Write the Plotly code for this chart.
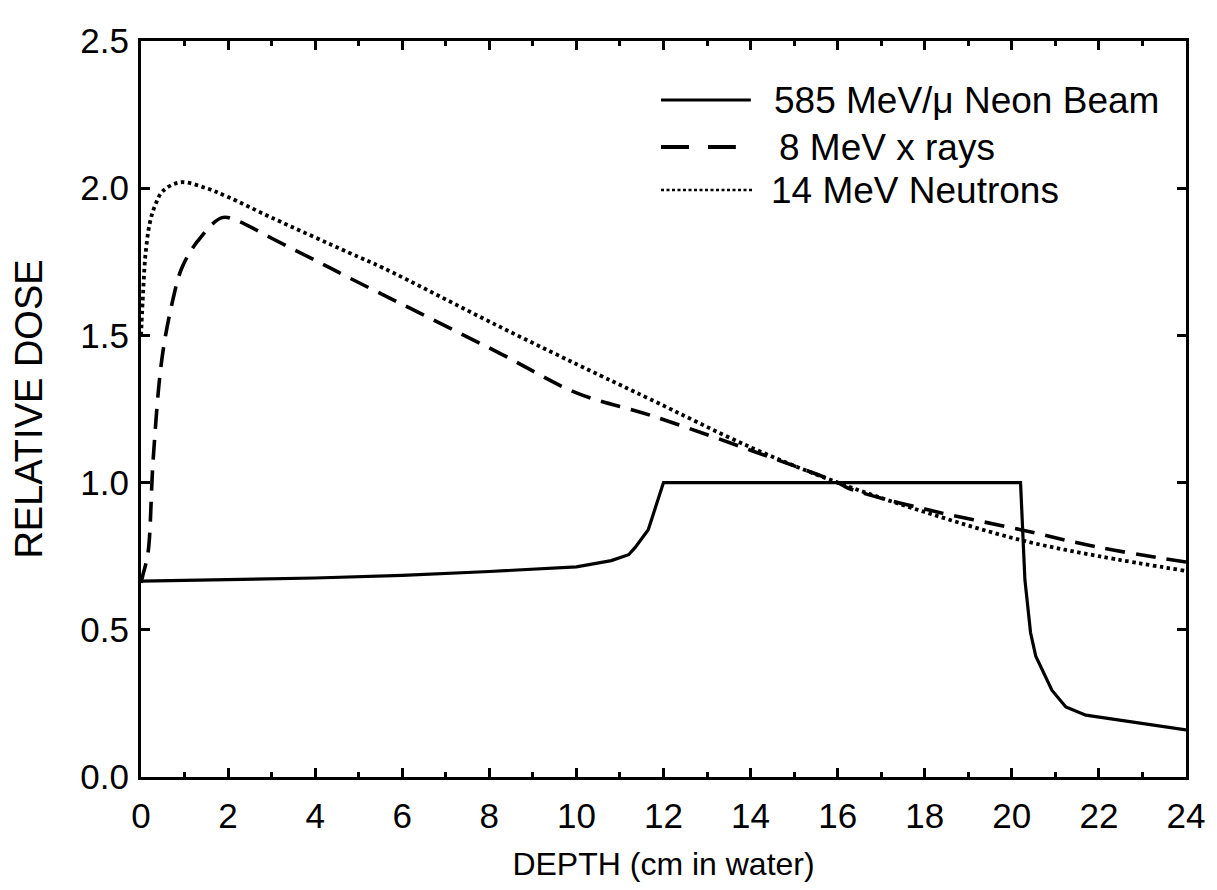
import plotly.graph_objects as go

# Depth-dose curves (depth in cm of water, dose relative to the neon plateau)
neon_depth = [0, 2, 4, 6, 8, 10, 10.8, 11.2, 11.35, 11.65, 12.0, 20.2, 20.3,
              20.43, 20.55, 20.92, 21.24, 21.7, 24]
neon_dose = [0.665, 0.67, 0.676, 0.685, 0.698, 0.714, 0.735, 0.755, 0.78, 0.84,
             1.0, 1.0, 0.67, 0.49, 0.41, 0.295, 0.238, 0.21, 0.16]

xray_depth = [0, 0.05, 0.16, 0.28, 0.48, 0.73, 0.94, 1.3, 1.86, 2.2, 3, 4.33,
              4.79, 8.23, 10, 11.67, 14, 16, 16.26, 18, 20.2, 22, 24]
xray_dose = [0.66, 0.69, 0.76, 1.08, 1.42, 1.62, 1.73, 1.82, 1.90, 1.89, 1.83,
             1.73, 1.695, 1.44, 1.305, 1.23, 1.11, 1.0, 0.98, 0.91, 0.84,
             0.78, 0.73]

neutron_depth = [0, 0.05, 0.1, 0.2, 0.32, 0.5, 0.9, 1.5, 2, 3, 4.79, 5.55,
                 8.23, 10.53, 11.67, 14, 16, 18, 20.2, 22, 24]
neutron_dose = [1.5, 1.65, 1.77, 1.88, 1.94, 1.99, 2.02, 2.0, 1.97, 1.90, 1.78,
                1.73, 1.53, 1.365, 1.285, 1.12, 1.0, 0.9, 0.805, 0.75, 0.70]

legend_labels = ["585 MeV/\u03bc Neon Beam", "8 MeV x rays", "14 MeV Neutrons"]
x_ticks = list(range(0, 25, 2))
y_ticks = [0.0, 0.5, 1.0, 1.5, 2.0, 2.5]

FONT = "Liberation Sans, Arial, Helvetica, sans-serif"
X0, X1, Y0, Y1 = 141, 1188, 41, 777  # plot-area pixel bounds


def px_x(p):
    return (p - X0) / (X1 - X0)


def px_y(p):
    return 1 - (p - Y0) / (Y1 - Y0)


fig = go.Figure()
fig.add_trace(go.Scatter(x=neon_depth, y=neon_dose, mode="lines",
                         line=dict(color="black", width=3.2),
                         name=legend_labels[0], showlegend=False))
fig.add_trace(go.Scatter(x=xray_depth, y=xray_dose, mode="lines",
                         line=dict(color="black", width=3.6, dash="20px,11px"),
                         line_shape="spline",
                         name=legend_labels[1], showlegend=False))
fig.add_trace(go.Scatter(x=neutron_depth, y=neutron_dose, mode="lines",
                         line=dict(color="black", width=3.8, dash="3.5px,3.5px"),
                         line_shape="spline",
                         name=legend_labels[2], showlegend=False))

# Hand-drawn legend inside the plot area
legend_rows = [
    (100, 662, 752, "solid", 3.2, 773),
    (147, 662, 737, "28px,19px", 3.8, 778),
    (190, 662, 755, "3px,2.5px", 2.6, 770),
]
for (ypix, lx0, lx1, dash, w, tx), label in zip(legend_rows, legend_labels):
    fig.add_shape(type="line", xref="paper", yref="paper",
                  x0=px_x(lx0), x1=px_x(lx1), y0=px_y(ypix), y1=px_y(ypix),
                  line=dict(color="black", width=w, dash=dash))
    fig.add_annotation(xref="paper", yref="paper", x=px_x(tx), y=px_y(ypix),
                       xanchor="left", yanchor="middle", text=label,
                       showarrow=False,
                       font=dict(family=FONT, size=37, color="black"))

axis_common = dict(showline=True, linecolor="black", linewidth=3, mirror="ticks",
                   ticks="inside", tickcolor="black", tickwidth=2.5, ticklen=9,
                   showgrid=False, zeroline=False,
                   tickfont=dict(family=FONT, size=35, color="black"))

fig.update_xaxes(range=[0, 24], tickvals=x_ticks,
                 ticktext=[str(v) for v in x_ticks], ticklabelstandoff=6,
                 minor=dict(dtick=1, ticks="inside", ticklen=5, tickwidth=2.5,
                            tickcolor="black"),
                 title=dict(text="DEPTH (cm in water)", standoff=19,
                            font=dict(family=FONT, size=32, color="black")),
                 **axis_common)
fig.update_yaxes(range=[0, 2.5], tickvals=y_ticks,
                 ticktext=[f"{v:.1f}" for v in y_ticks], ticklabelstandoff=2,
                 title=dict(text="RELATIVE DOSE", standoff=27,
                            font=dict(family=FONT, size=38, color="black")),
                 **axis_common)

fig.update_layout(width=1217, height=890,
                  margin=dict(l=X0, r=1217 - X1, t=Y0, b=890 - Y1),
                  paper_bgcolor="white", plot_bgcolor="white",
                  showlegend=False)

fig.write_html("out.html")
